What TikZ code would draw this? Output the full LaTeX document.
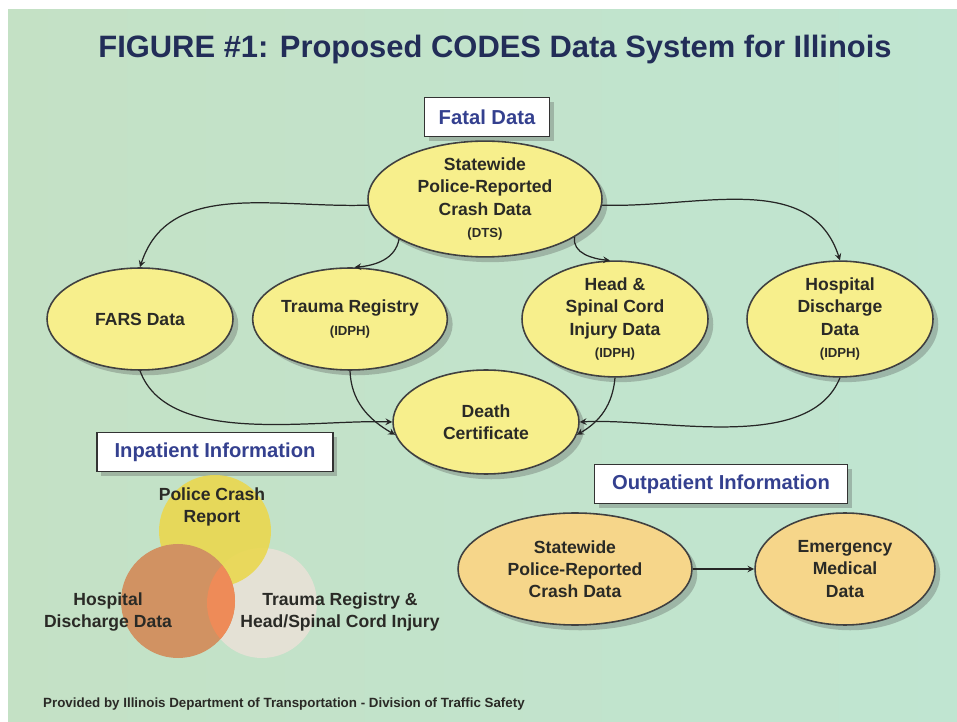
\documentclass[tikz,border=0pt]{standalone}
\usepackage{fontspec}
\setmainfont{Liberation Sans}
\usetikzlibrary{arrows, shapes, shadows, positioning}

\definecolor{panelleft}{HTML}{C4E1C5}
\definecolor{panelmid}{HTML}{D3ECDB}
\definecolor{panelright}{HTML}{C0E5D1}
\definecolor{titlenavy}{HTML}{222D58}
\definecolor{tagblue}{HTML}{34408F}
\definecolor{inkgrey}{HTML}{2A2A26}
\definecolor{bubbleyellow}{HTML}{F7EF8C}
\definecolor{bubbleorange}{HTML}{F6D68A}
\definecolor{vennyellow}{HTML}{EAD84F}
\definecolor{venngrey}{HTML}{E4E1D5}
\definecolor{vennbrown}{HTML}{D19262}
\definecolor{vennorange}{HTML}{EE8B58}

\newcommand{\agency}[1]{{\fontsize{7.5}{9}\selectfont(#1)}}

\tikzset{
    databubble/.style={ellipse, draw=black!75, line width=0.9pt, fill=bubbleyellow,
      inner sep=0pt, align=center, text=inkgrey,
      font=\fontsize{10}{12.6}\selectfont\bfseries,
      drop shadow={shadow xshift=3pt, shadow yshift=-3pt, fill=black!70, opacity=0.3}},
    outbubble/.style={databubble, fill=bubbleorange},
    tagbox/.style={rectangle, draw=black!80, line width=0.8pt, fill=white, inner sep=0pt,
      minimum height=0.78cm, text=tagblue, font=\fontsize{11.5}{13}\selectfont\bfseries,
      drop shadow={shadow xshift=2.5pt, shadow yshift=-2.5pt, fill=black!70, opacity=0.3}},
    venntext/.style={align=center, text=inkgrey, font=\fontsize{10}{12.6}\selectfont\bfseries},
    flow/.style={->, >=stealth, line width=0.7pt, black!85}
  }

\begin{document}
\begin{tikzpicture}[x=0.02cm, y=-0.02cm]
    \useasboundingbox (0,0) rectangle (957,722);
    \shade[left color=panelleft, middle color=panelmid, right color=panelright] (8,10) rectangle (957,722);

    \node (title) at (495,50) [text=titlenavy, font=\fontsize{17.6}{21}\selectfont\bfseries]
        {FIGURE \#1: Proposed CODES Data System for Illinois};

    % fatal data
    \node (fatal) at (487,117) [tagbox, minimum width=2.5cm] {Fatal Data};
    \node (crash) at (485,199) [databubble, minimum width=4.68cm, minimum height=2.06cm]
        {Statewide\\Police-Reported\\Crash Data\\\agency{DTS}};
    \node (fars) at (140,319) [databubble, minimum width=3.72cm, minimum height=2.04cm] {FARS Data};
    \node (trauma) at (350,319) [databubble, minimum width=3.72cm, minimum height=2.04cm]
        {Trauma Registry\\\agency{IDPH}};
    \node (spinal) at (615,319) [databubble, minimum width=3.72cm, minimum height=2.04cm]
        {Head \&\\Spinal Cord\\Injury Data\\\agency{IDPH}};
    \node (discharge) at (840,319) [databubble, minimum width=3.72cm, minimum height=2.04cm]
        {Hospital\\Discharge\\Data\\\agency{IDPH}};
    \node (death) at (486,422) [databubble, minimum width=3.72cm, minimum height=2.08cm]
        {Death\\Certificate};

    \draw[flow] (crash.183) to[out=182, in=72] (fars.north);
    \draw[flow] (crash.205) to[out=-100, in=5] (trauma.85);
    \draw[flow] (crash.-23) to[out=-100, in=175] (spinal.95);
    \draw[flow] (crash.-3) to[out=-2, in=108] (discharge.north);
    \draw[flow] (fars.south) to[out=-70, in=178, looseness=0.8] (death.west);
    \draw[flow] (trauma.south) to[out=-88, in=150] (death.188);
    \draw[flow] (spinal.south) to[out=-95, in=30] (death.-8);
    \draw[flow] (discharge.south) to[out=-112, in=3, looseness=0.8] (death.east);

    % inpatient information
    \node (inpatient) at (215,452) [tagbox, minimum width=4.72cm] {Inpatient Information};
    \fill[venngrey] (262,603) circle (55);
    \fill[vennyellow, opacity=0.9] (215,531) circle (56);
    \fill[vennbrown] (178,601) circle (57);
    \begin{scope}
      \clip (262,603) circle (55);
      \fill[vennorange] (178,601) circle (57);
    \end{scope}
    \node (police) at (212,507) [venntext] {Police Crash\\Report};
    \node (hospital) at (108,612) [venntext] {Hospital\\Discharge Data};
    \node (registry) at (340,612) [venntext] {Trauma Registry \&\\Head/Spinal Cord Injury};

    % outpatient information
    \node (outpatient) at (721,484) [tagbox, minimum width=5.06cm] {Outpatient Information};
    \node (outcrash) at (575,569) [outbubble, minimum width=4.68cm, minimum height=2.24cm]
        {Statewide\\Police-Reported\\Crash Data};
    \node (ems) at (845,569) [outbubble, minimum width=3.6cm, minimum height=2.24cm]
        {Emergency\\Medical\\Data};
    \draw[flow] (outcrash) -- (ems);

    \node (credit) at (37,704) [anchor=west, text=inkgrey, font=\fontsize{7.6}{9}\selectfont\bfseries]
        {Provided by Illinois Department of Transportation - Division of Traffic Safety};
\end{tikzpicture}
\end{document}
